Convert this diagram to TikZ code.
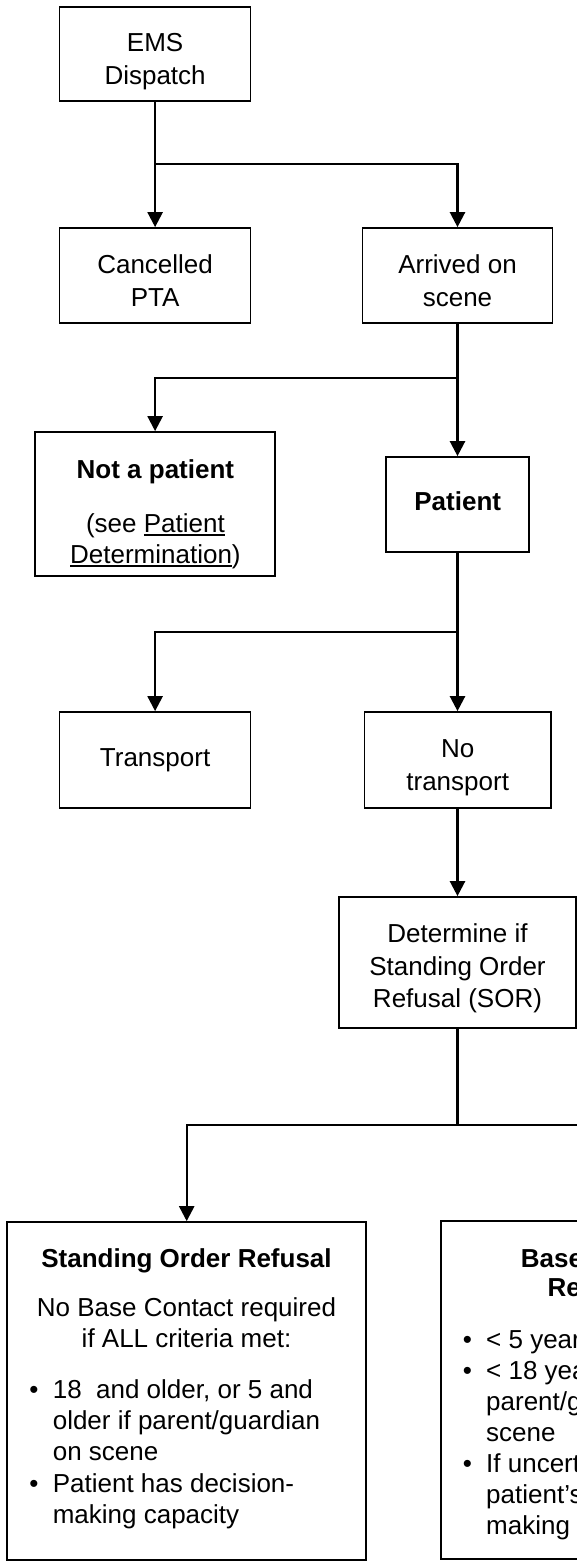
\documentclass[tikz,border=0pt]{standalone}
\usepackage{fontspec}
\setmainfont{Liberation Sans}
\usetikzlibrary{arrows.meta}
\newcommand{\mlines}[1]{\begin{tabular}[t]{@{}c@{}}#1\end{tabular}}
\newcommand{\myul}[1]{\setbox0\hbox{#1}\rlap{\rule[-3.6pt]{\wd0}{1.5pt}}\box0}
\newcommand{\fs}[1]{\fontsize{26}{#1}\selectfont}
\tikzset{
  box/.style={draw=black, line width=1.7pt, inner sep=0pt, rectangle},
  txt/.style={inner sep=0pt, anchor=base, font=\fs{33}},
  txtb/.style={inner sep=0pt, anchor=base, font=\fs{33}\bfseries},
  txtl/.style={inner sep=0pt, anchor=base west, font=\fs{33}},
  txtlb/.style={inner sep=0pt, anchor=base west, font=\fs{33}\bfseries},
  line/.style={line width=2.4pt},
  conn/.style={line width=2.4pt, -{Triangle[length=15pt,width=15pt]}}
}
\begin{document}
\begin{tikzpicture}[x=1pt,y=-1pt]
\clip (0,0) rectangle (577,1562);
% boxes
\node[box, minimum width=191pt, minimum height=94pt] (a) at (155.1,54) {};
\node[box, minimum width=191pt, minimum height=95pt] (b) at (155.1,275.5) {};
\node[box, minimum width=190pt, minimum height=95pt] (c) at (457.5,275.5) {};
\node[box, minimum width=240pt, minimum height=144pt] (d) at (155.1,504) {};
\node[box, minimum width=143.6pt, minimum height=95pt] (e) at (457.5,504.5) {};
\node[box, minimum width=191pt, minimum height=96pt] (f) at (155.1,760) {};
\node[box, minimum width=186.3pt, minimum height=96pt] (g) at (457.5,760) {};
\node[box, minimum width=237.5pt, minimum height=131pt] (h) at (457.5,962.5) {};
\node[box, minimum width=359pt, minimum height=338pt] (i) at (186.7,1391) {};
\node[box, minimum width=326pt, minimum height=338pt] (k) at (604,1390) {};
% texts
\node[txt, font=\fs{33.3}] (ta) at (155.1,51.7) {\mlines{EMS\\Dispatch}};
\node[txt] (tb) at (155.1,273.3) {\mlines{Cancelled\\PTA}};
\node[txt] (tc) at (457.5,273.2) {\mlines{Arrived on\\scene}};
\node[txtb] (td1) at (155.4,478.3) {Not a patient};
\node[txt, font=\fs{31}] (td2) at (155.4,532.3) {\mlines{(see \myul{Patient}\\\myul{Determination})}};
\node[txtb] (te) at (457.7,510.7) {Patient};
\node[txt] (tf) at (155.1,766.7) {Transport};
\node[txt, font=\fs{32.3}] (tg) at (457.7,757.7) {\mlines{No\\transport}};
\node[txt, font=\fs{32.7}] (th) at (457.5,942.3) {\mlines{Determine if\\Standing Order\\Refusal (SOR)}};
% SOR box
\node[txtb] (ti1) at (186.5,1267) {Standing Order Refusal};
\node[txt, font=\fs{31}] (ti2) at (186.5,1316) {\mlines{No Base Contact required\\if ALL criteria met:}};
\node[txt] (bi1) at (33.9,1398) {•};
\node[txtl] (ti3) at (52.6,1398) {18\ \ and older, or 5 and};
\node[txtl] (ti4) at (52.6,1429.5) {older if parent/guardian};
\node[txtl] (ti5) at (52.6,1460.5) {on scene};
\node[txt] (bi2) at (33.9,1492) {•};
\node[txtl] (ti6) at (52.6,1492) {Patient has decision-};
\node[txtl] (ti7) at (52.6,1523) {making capacity};
% Base contact box (cut by the page edge)
\node[txtlb] (tk1) at (520.7,1267) {Base};
\node[txtlb] (tk2) at (547.5,1296) {Re};
\node[txt] (bk1) at (467.5,1348) {•};
\node[txtl] (tk3) at (486,1348) {< 5 year};
\node[txt] (bk2) at (467.5,1379) {•};
\node[txtl] (tk4) at (486,1379) {< 18 yea};
\node[txtl] (tk5) at (486,1410) {parent/g};
\node[txtl] (tk6) at (486,1441) {scene};
\node[txt] (bk3) at (467.5,1472) {•};
\node[txtl] (tk7) at (486,1472) {If uncert};
\node[txtl] (tk8) at (486,1503) {patient’s};
\node[txtl] (tk9) at (486,1534) {making};
% junctions
\coordinate (j1) at (155.1,164);
\coordinate (j2) at (457.5,378);
\coordinate (j3) at (457.5,632);
\coordinate (j4) at (457.5,1125);
% connectors
\draw[conn] (a.south) -- (b.north);
\draw[conn] (j1) -| (c.north);
\draw[conn] (c.south) -- (e.north);
\draw[conn] (j2) -| (d.north);
\draw[conn] (e.south) -- (g.north);
\draw[conn] (j3) -| (f.north);
\draw[conn] (g.south) -- (h.north);
\draw[line] (h.south) -- (j4);
\draw[conn] (j4) -| (i.north);
\draw[conn] (j4) -| (k.north);
\end{tikzpicture}
\end{document}
